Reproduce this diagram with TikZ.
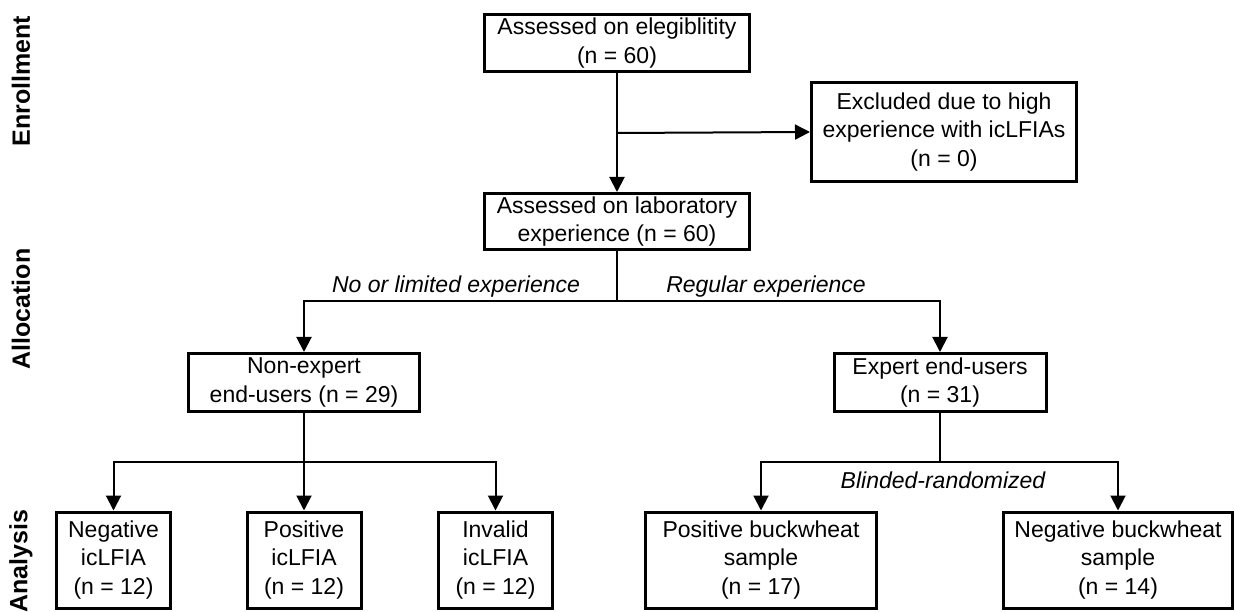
\documentclass[tikz,border=0pt]{standalone}
\usepackage{fontspec}
\setmainfont{Liberation Sans}
\usetikzlibrary{arrows.meta}
\begin{document}
\begin{tikzpicture}[x=1pt,y=-1pt,
  txt/.style={font=\fontsize{23}{28.5}\selectfont},
  box/.style={draw, line width=3pt, align=center, inner sep=0pt, txt},
  conn/.style={line width=2pt, -{Triangle[width=15pt,length=15pt]}},
  plain/.style={line width=2pt},
  side/.style={font=\fontsize{25}{30}\selectfont\bfseries, rotate=90},
  lbl/.style={font=\fontsize{23}{27}\selectfont\itshape}]
\useasboundingbox (0,0) rectangle (1235,612);
% side labels
\node[side] (enr) at (21,81) {Enrollment};
\node[side] (all) at (21,309) {Allocation};
\node[side] (ana) at (21,561) {Analysis};
% boxes
\node[box, minimum width=265pt, minimum height=57pt] (elig) at (617,43) {Assessed on elegiblitity\\(n = 60)};
\node[box, minimum width=265pt, minimum height=99pt] (excl) at (944,132) {Excluded due to high\\experience with icLFIAs\\(n = 0)};
\node[box, minimum width=265pt, minimum height=56pt] (lab) at (617,221.5) {Assessed on laboratory\\experience (n = 60)};
\node[box, minimum width=231pt, minimum height=58pt] (nonexp) at (304,382.5) {Non-expert\\end-users (n = 29)};
\node[box, minimum width=212pt, minimum height=58pt] (exp) at (940,382.5) {Expert end-users\\(n = 31)};
\node[box, minimum width=114pt, minimum height=96pt] (neg) at (113.5,560) {Negative\\icLFIA\\(n = 12)};
\node[box, minimum width=114pt, minimum height=96pt] (pos) at (304,560) {Positive\\icLFIA\\(n = 12)};
\node[box, minimum width=114pt, minimum height=96pt] (inv) at (495.5,560) {Invalid\\icLFIA\\(n = 12)};
\node[box, minimum width=231pt, minimum height=96pt] (posb) at (761,560) {Positive buckwheat\\sample\\(n = 17)};
\node[box, minimum width=229pt, minimum height=96pt] (negb) at (1118,560) {Negative buckwheat\\sample\\(n = 14)};
% connectors
\coordinate (j0) at (617,133);
\draw[conn] (elig) -- (lab);
\draw[conn] (j0) -- (excl.west);
\coordinate (s1) at (617,301);
\draw[plain] (lab.south) -- (s1);
\draw[conn] (s1) -| (nonexp.north);
\draw[conn] (s1) -| (exp.north);
\coordinate (s2) at (304,462);
\draw[plain] (nonexp.south) -- (s2);
\draw[conn] (s2) -| (neg.north);
\draw[conn] (s2) -- (pos.north);
\draw[conn] (s2) -| (inv.north);
\coordinate (s3) at (940,462);
\draw[plain] (exp.south) -- (s3);
\draw[conn] (s3) -| (posb.north);
\draw[conn] (s3) -| (negb.north);
% labels
\node[lbl] (l1) at (456,287) {No or limited experience};
\node[lbl] (l2) at (766,287) {Regular experience};
\node[lbl] (l3) at (943,480) {Blinded-randomized};
\end{tikzpicture}
\end{document}
